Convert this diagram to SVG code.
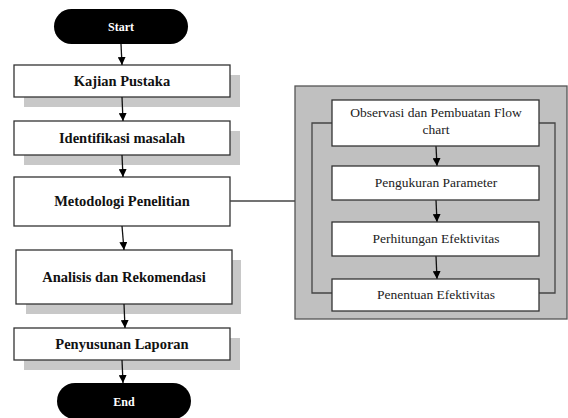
<svg xmlns="http://www.w3.org/2000/svg" width="568" height="418" viewBox="0 0 568 418">
<defs>
<marker id="ah" viewBox="0 0 10 10" refX="10" refY="5" markerWidth="8" markerHeight="8" markerUnits="userSpaceOnUse" orient="auto">
<path d="M0,0 L10,5 L0,10 z" fill="#000"/>
</marker>
<style>
.box{fill:#fff;stroke:#333;stroke-width:1.3}
.shadow{fill:#c8c8c8}
.pill{fill:#000}
.lt{font-family:'Liberation Serif','Times New Roman',serif;font-weight:bold;font-size:14.5px;fill:#111;text-anchor:middle}
.pt{font-family:'Liberation Serif','Times New Roman',serif;font-weight:bold;font-size:12px;fill:#fff;text-anchor:middle}
.rt{font-family:'Liberation Serif','Times New Roman',serif;font-size:13.5px;fill:#222;text-anchor:middle}
.ar{stroke:#111;stroke-width:1.3;fill:none;marker-end:url(#ah)}
.ln{stroke:#444;stroke-width:1.3;fill:none}
</style>
</defs>
<rect width="568" height="418" fill="#fff"/>
<g id="start"><rect class="pill" x="54" y="9" width="134" height="35" rx="17.5"/><text class="pt" x="121" y="31">Start</text></g>
<g id="kajian"><rect class="shadow" x="24" y="75" width="216" height="32"/><rect class="box" x="14" y="65" width="216" height="32"/><text class="lt" x="122" y="86">Kajian Pustaka</text></g>
<g id="identifikasi"><rect class="shadow" x="24" y="131" width="216" height="34"/><rect class="box" x="14" y="121" width="216" height="34"/><text class="lt" x="122" y="143">Identifikasi masalah</text></g>
<g id="metodologi"><rect class="box" x="14" y="177" width="216" height="49"/><text class="lt" x="122" y="206">Metodologi Penelitian</text></g>
<g id="analisis"><rect class="shadow" x="26" y="260" width="215" height="54"/><rect class="box" x="16" y="250" width="216" height="54"/><text class="lt" x="124" y="282">Analisis dan Rekomendasi</text></g>
<g id="penyusunan"><rect class="shadow" x="24" y="338" width="216" height="32"/><rect class="box" x="14" y="328" width="216" height="32"/><text class="lt" x="122" y="349">Penyusunan Laporan</text></g>
<g id="end"><rect class="pill" x="57" y="383" width="134" height="36" rx="18"/><text class="pt" x="124" y="406">End</text></g>
<g id="panel"><rect x="295" y="86" width="272" height="233" fill="#c0c0c0" stroke="#555" stroke-width="1.3"/></g>
<g id="connectors">
<line class="ar" x1="121" y1="44" x2="122" y2="65"/>
<line class="ar" x1="122" y1="97" x2="123" y2="121"/>
<line class="ar" x1="122" y1="155" x2="123" y2="177"/>
<line class="ar" x1="122" y1="226" x2="124" y2="250"/>
<line class="ar" x1="124" y1="304" x2="125" y2="328"/>
<line class="ar" x1="122" y1="360" x2="123" y2="383"/>
<line class="ln" x1="230" y1="201" x2="295" y2="201"/>
<polyline class="ln" points="332,123 312,123 312,293 332,293"/>
<polyline class="ln" points="539,123 555,123 555,293 539,293"/>
<line class="ar" x1="436" y1="146" x2="437" y2="166"/>
<line class="ar" x1="436" y1="200" x2="437" y2="222"/>
<line class="ar" x1="436" y1="256" x2="437" y2="279"/>
</g>
<g id="observasi"><rect class="box" x="332" y="100" width="207" height="46"/><text class="rt" x="436" y="117">Observasi dan Pembuatan Flow</text><text class="rt" x="436" y="134">chart</text></g>
<g id="pengukuran"><rect class="box" x="332" y="166" width="207" height="34"/><text class="rt" x="436" y="187">Pengukuran Parameter</text></g>
<g id="perhitungan"><rect class="box" x="332" y="222" width="207" height="34"/><text class="rt" x="436" y="243">Perhitungan Efektivitas</text></g>
<g id="penentuan"><rect class="box" x="332" y="279" width="207" height="32"/><text class="rt" x="436" y="299">Penentuan Efektivitas</text></g>
</svg>
